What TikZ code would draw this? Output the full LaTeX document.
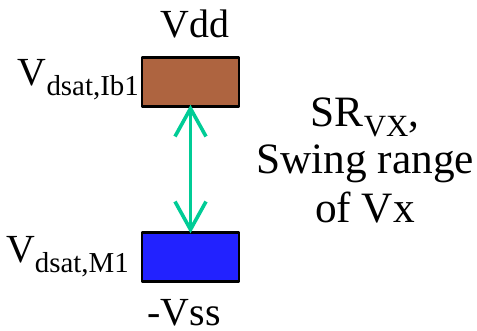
\documentclass[tikz,border=0pt]{standalone}
\usepackage{fontspec}
\setmainfont{Liberation Serif}
\usetikzlibrary{arrows.meta}
\definecolor{railbrown}{RGB}{174,100,64}
\definecolor{railblue}{RGB}{34,34,255}
\definecolor{swinggreen}{RGB}{0,204,150}
\newcommand{\bigtxt}{\fontsize{40}{42}\selectfont}
\newcommand{\rtxt}{\fontsize{43.5}{48}\selectfont}
\newcommand{\lowsub}[1]{\raisebox{-10bp}{\fontsize{29}{29}\selectfont #1}}
\begin{document}
\begin{tikzpicture}[x=1bp, y=-1bp, >={Straight Barb[length=28bp,width=31bp,line width=3.6bp]}, line join=round]
	\useasboundingbox (0,0) rectangle (477,330);
	\tikzset{rail/.style={draw=black, line width=2.5bp, minimum width=97bp, minimum height=49bp, inner sep=0pt},
		lbl/.style={inner sep=0pt, anchor=base}}
	
	\node[rail, fill=railbrown] (ib1) at (190.5,82) {};
	\node[rail, fill=railblue] (m1) at (190.5,257) {};
	
	\node[lbl, font=\bigtxt] (vdd) at (195,37) {Vdd};
	\node[lbl, font=\bigtxt] (vss) at (184,325) {-Vss};
	\node[lbl, anchor=base east, font=\bigtxt] (vib1) at (139,85) {V\lowsub{dsat,Ib1}};
	\node[lbl, anchor=base east, font=\bigtxt] (vm1) at (129,262) {V\lowsub{dsat,M1}};
	
	\node[lbl, font=\rtxt] (sr) at (365,126) {SR\lowsub{\fontsize{31}{31}\selectfont VX},};
	\node[lbl, font=\rtxt] (swing) at (365,173) {Swing range};
	\node[lbl, font=\rtxt] (ofvx) at (365,222) {of Vx};
	
	\draw[<->, swinggreen, line width=3.2bp, shorten <=-3bp, shorten >=-2bp] (ib1.south) -- (m1.north);
\end{tikzpicture}
\end{document}
